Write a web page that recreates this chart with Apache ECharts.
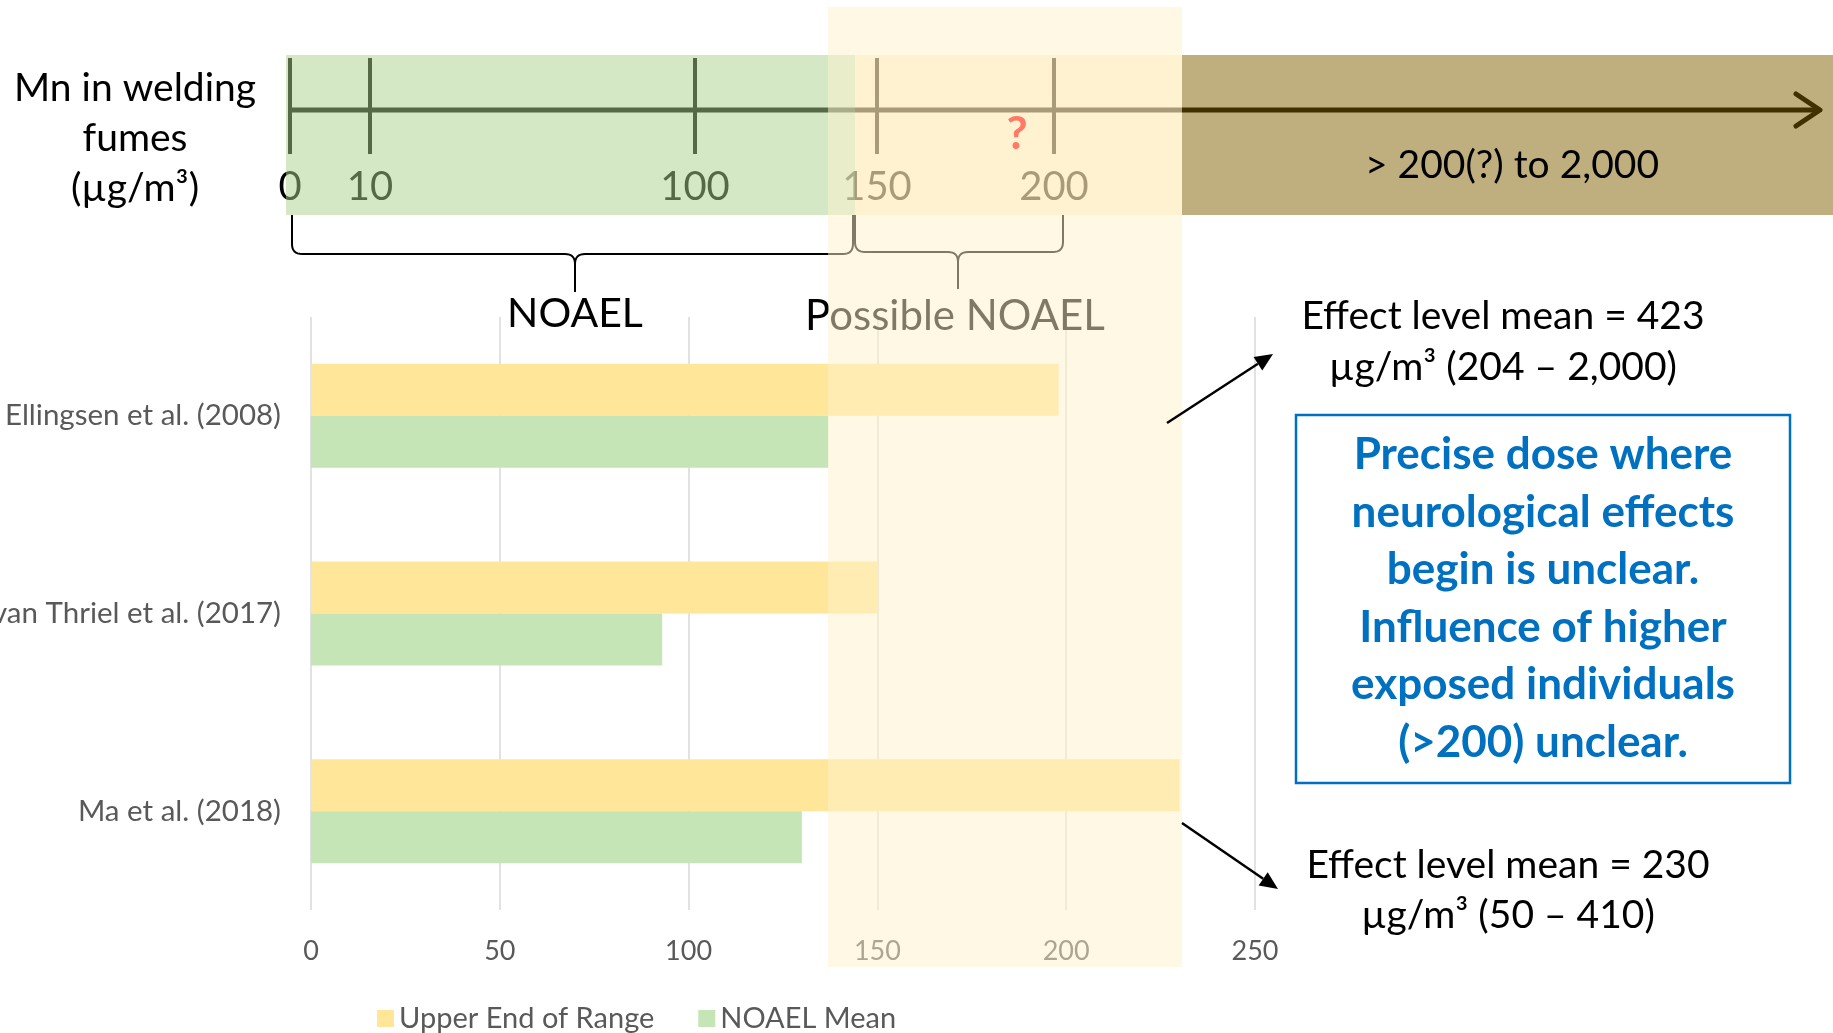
<!DOCTYPE html>
<html>
<head>
<meta charset="utf-8">
<title>Mn in welding fumes – NOAEL</title>
<script src="https://cdn.jsdelivr.net/npm/echarts@6/dist/echarts.min.js"></script>
<style>
  html, body { margin: 0; padding: 0; background: #ffffff; }
  #chart { width: 1833px; height: 1033px; }
</style>
</head>
<body>
<div id="chart"></div>
<script>
// ---- data ----
const studies = ['Ellingsen et al. (2008)', 'van Thriel et al. (2017)', 'Ma et al. (2018)'];
const upperEndOfRange = [198, 150, 230];
const noaelMean = [137, 93, 130];
const seriesNames = ['Upper End of Range', 'NOAEL Mean'];
const valueAxisMax = 250;
const valueAxisStep = 50;

// exposure ruler above the chart (schematic, µg/m³)
const rulerTicks = ['0', '10', '100', '150', '200'];
const rulerTitle = 'Mn in welding\nfumes\n(µg/m³)';
const highRangeText = '> 200(?) to 2,000';
const noaelText = 'NOAEL';
const possibleNoaelText = 'Possible NOAEL';
const effectHigh = 'Effect level mean = 423\nµg/m³ (204 – 2,000)';
const effectLow = 'Effect level mean = 230\nµg/m³ (50 – 410)';
const noteText = 'Precise dose where\nneurological effects\nbegin is unclear.\nInfluence of higher\nexposed individuals\n(>200) unclear.';

// ---- layout of the schematic parts ----
const FONT = 'Lato, "Open Sans", sans-serif';
const ruler = {
  y: 110, x0: 290, x1: 1818, tickTop: 58, tickBottom: 154, labelY: 187,
  tickX: [290, 370, 695, 877, 1054],
  bandTop: 55, bandBottom: 215,
  greenEnd: 855, yellowEnd: 1182, right: 1833
};

const chart = echarts.init(document.getElementById('chart'), null, { renderer: 'canvas' });

function text(x, y, str, size, color, opts) {
  opts = opts || {};
  return {
    type: 'text', x: x, y: y, z: opts.z || 4, silent: true,
    style: {
      text: str, fill: color, fontSize: size, fontFamily: FONT,
      fontWeight: opts.bold ? 'bold' : 'normal',
      align: opts.align || 'center', verticalAlign: 'middle',
      lineHeight: opts.lineHeight || size * 1.3
    }
  };
}

function arrow(x1, y1, x2, y2) {
  const a = Math.atan2(y2 - y1, x2 - x1);
  const len = 18, half = 8;
  const bx = x2 - Math.cos(a) * len, by = y2 - Math.sin(a) * len;
  const px = -Math.sin(a) * half, py = Math.cos(a) * half;
  return [
    { type: 'line', z: 12, silent: true, shape: { x1: x1, y1: y1, x2: bx, y2: by },
      style: { stroke: '#000', lineWidth: 2.5 } },
    { type: 'polygon', z: 12, silent: true,
      shape: { points: [[x2, y2], [bx + px, by + py], [bx - px, by - py]] },
      style: { fill: '#000' } }
  ];
}

// quadratic curve sampled into points
function quad(p0, c, p1, n) {
  const pts = [];
  for (let i = 1; i <= n; i++) {
    const t = i / n, u = 1 - t;
    pts.push([u * u * p0[0] + 2 * u * t * c[0] + t * t * p1[0],
              u * u * p0[1] + 2 * u * t * c[1] + t * t * p1[1]]);
  }
  return pts;
}

// curly brace: two polylines (left and right halves)
function brace(xl, xm, xr, yTop, yMid, yTip, color) {
  const r = 10;
  const left = [[xl, yTop], [xl, yMid - r]]
    .concat(quad([xl, yMid - r], [xl, yMid], [xl + r, yMid], 8))
    .concat([[xm - r, yMid]])
    .concat(quad([xm - r, yMid], [xm, yMid], [xm, yMid + r], 8))
    .concat([[xm, yTip]]);
  const right = [[xr, yTop], [xr, yMid - r]]
    .concat(quad([xr, yMid - r], [xr, yMid], [xr - r, yMid], 8))
    .concat([[xm + r, yMid]])
    .concat(quad([xm + r, yMid], [xm, yMid], [xm, yMid + r], 8));
  return [left, right].map(function (pts) {
    return { type: 'polyline', z: 4, silent: true, shape: { points: pts },
      style: { stroke: color, lineWidth: 2, fill: null } };
  });
}

function buildGraphics() {
  const g = [];
  // ruler line and ticks
  g.push({ type: 'line', z: 1, silent: true,
    shape: { x1: ruler.x0, y1: ruler.y, x2: ruler.x1, y2: ruler.y },
    style: { stroke: '#000', lineWidth: 5 } });
  g.push({ type: 'polyline', z: 1, silent: true,
    shape: { points: [[ruler.x1 - 22, ruler.y - 16], [ruler.x1 + 2, ruler.y], [ruler.x1 - 22, ruler.y + 16]] },
    style: { stroke: '#000', lineWidth: 5, lineCap: 'round', lineJoin: 'round', fill: null } });
  rulerTicks.forEach(function (t, i) {
    const x = ruler.tickX[i];
    g.push({ type: 'line', z: 1, silent: true,
      shape: { x1: x, y1: ruler.tickTop, x2: x, y2: ruler.tickBottom },
      style: { stroke: '#000', lineWidth: 4 } });
    g.push(text(x, ruler.labelY, t, 40, '#000', { z: 1 }));
  });
  // tinted range bands over the ruler
  g.push({ type: 'rect', z: 3, silent: true,
    shape: { x: 286, y: ruler.bandTop, width: ruler.greenEnd - 286, height: ruler.bandBottom - ruler.bandTop },
    style: { fill: 'rgba(169,209,142,0.5)' } });
  g.push({ type: 'rect', z: 3, silent: true,
    shape: { x: ruler.greenEnd, y: ruler.bandTop, width: ruler.yellowEnd - ruler.greenEnd, height: ruler.bandBottom - ruler.bandTop },
    style: { fill: 'rgba(255,214,120,0.32)' } });
  g.push({ type: 'rect', z: 3, silent: true,
    shape: { x: ruler.yellowEnd, y: ruler.bandTop, width: ruler.right - ruler.yellowEnd, height: ruler.bandBottom - ruler.bandTop },
    style: { fill: 'rgba(127,96,0,0.5)' } });
  g.push(text(1017, 134, '?', 46, '#FF0000', { bold: true, z: 4 }));
  g.push(text(1512, 165, highRangeText, 39, '#000', { z: 4 }));
  g.push(text(135, 138, rulerTitle, 39, '#000', { z: 4, lineHeight: 50 }));

  // braces and their labels
  brace(292, 575, 853, 215, 254, 292, '#000').forEach(function (e) { g.push(e); });
  brace(855, 958, 1063, 215, 252, 289, '#000').forEach(function (e) { g.push(e); });
  g.push(text(575, 314, noaelText, 41, '#000'));
  g.push(text(955, 316, possibleNoaelText, 42, '#000'));

  // translucent highlight of the uncertain zone
  g.push({ type: 'rect', z: 10, silent: true,
    shape: { x: 828, y: 7, width: ruler.yellowEnd - 828, height: 960 },
    style: { fill: 'rgba(255,242,204,0.5)' } });

  // right-hand notes
  g.push(text(1503, 342, effectHigh, 39, '#000', { z: 12, lineHeight: 51 }));
  g.push(text(1508, 890, effectLow, 39, '#000', { z: 12, lineHeight: 50 }));
  g.push({ type: 'rect', z: 12, silent: true,
    shape: { x: 1296, y: 415, width: 494, height: 368 },
    style: { stroke: '#0070C0', lineWidth: 2.5, fill: '#ffffff' } });
  g.push(text(1543, 599, noteText, 44, '#0070C0', { z: 13, bold: true, lineHeight: 57.5 }));
  arrow(1167, 423, 1273, 354).forEach(function (e) { g.push(e); });
  arrow(1182, 823, 1278, 889).forEach(function (e) { g.push(e); });
  return g;
}

const option = {
  backgroundColor: '#ffffff',
  animation: false,
  textStyle: { fontFamily: FONT },
  grid: { left: 311, top: 317, width: 944, height: 593, containLabel: false, outerBoundsMode: 'none' },
  legend: {
    left: 372, top: 999, itemWidth: 17, itemHeight: 17, itemGap: 44, icon: 'rect',
    textStyle: { color: '#595959', fontSize: 29, fontFamily: FONT },
    data: seriesNames
  },
  xAxis: {
    type: 'value', min: 0, max: valueAxisMax, interval: valueAxisStep,
    axisLine: { show: false }, axisTick: { show: false },
    splitLine: { show: true, lineStyle: { color: '#D9D9D9', width: 1.5 } },
    axisLabel: { color: '#595959', fontSize: 27, margin: 28, fontFamily: FONT }
  },
  yAxis: {
    type: 'category', data: studies, inverse: true,
    axisLine: { show: false }, axisTick: { show: false }, splitLine: { show: false },
    axisLabel: { color: '#595959', fontSize: 29.5, margin: 30, fontFamily: FONT }
  },
  series: [
    { name: seriesNames[0], type: 'bar', data: upperEndOfRange, barWidth: 52, barGap: '0%',
      itemStyle: { color: '#FFE699' }, z: 2 },
    { name: seriesNames[1], type: 'bar', data: noaelMean, barWidth: 52, barGap: '0%',
      itemStyle: { color: '#C5E5B7' }, z: 2 }
  ],
  graphic: { elements: buildGraphics() }
};

chart.setOption(option);
</script>
</body>
</html>
